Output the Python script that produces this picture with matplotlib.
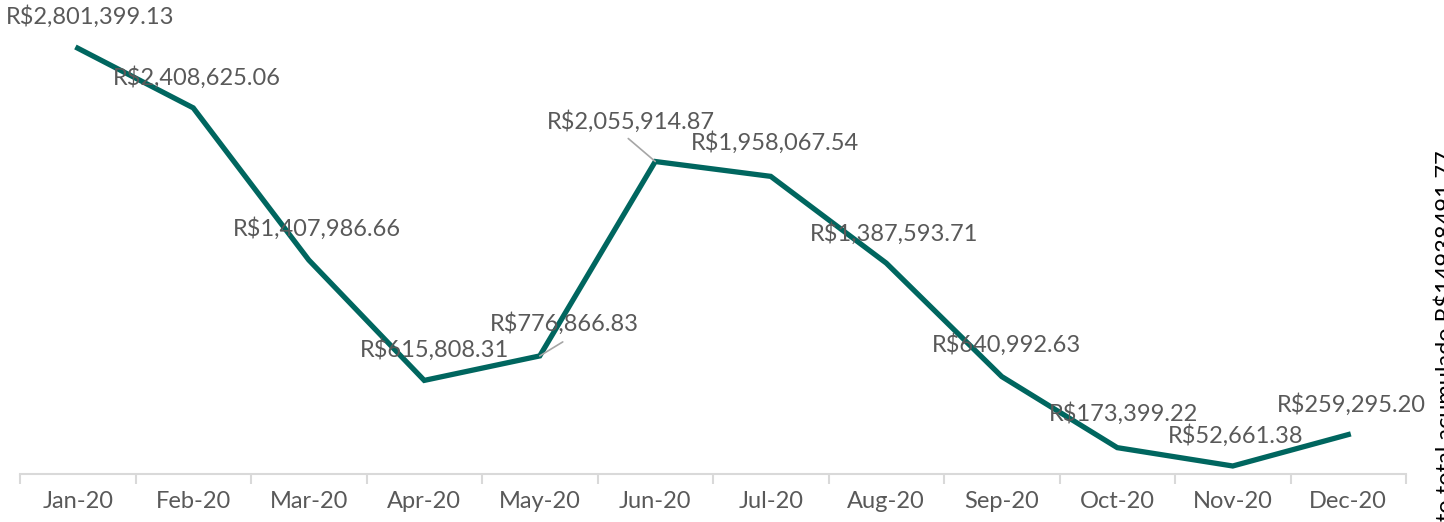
import matplotlib
matplotlib.use("Agg")
import matplotlib.pyplot as plt

months = ["Jan-20", "Feb-20", "Mar-20", "Apr-20", "May-20", "Jun-20",
          "Jul-20", "Aug-20", "Sep-20", "Oct-20", "Nov-20", "Dec-20"]
values = [2801399.13, 2408625.06, 1407986.66, 615808.31, 776866.83, 2055914.87,
          1958067.54, 1387593.71, 640992.63, 173399.22, 52661.38, 259295.20]
# label offsets in pixels (dx, dy) from each point, as placed in the original
label_offsets = [(12, 32), (4, 30), (8, 31), (10, 31), (25, 32), (-24, 40),
                 (4, 34), (8, 30), (5, 32), (6, 34), (3, 30), (3, 30)]
# leader line end points (pixels from the point) for the moved labels
leaders = {"May-20": (23, 14), "Jun-20": (-27, 23)}
side_note = "Faturamento total acumulado R$14938491.77"

LINE = "#00665F"
TEXT = "#595959"
plt.rcParams["font.family"] = ["Lato", "DejaVu Sans"]

fig = plt.figure(figsize=(14.44, 5.22), dpi=100)
ax = fig.add_axes([20 / 1444, 1 - 474 / 522, 1386 / 1444, 456 / 522])

x = list(range(len(months)))
ax.plot(x, values, color=LINE, linewidth=3.8, solid_joinstyle="miter", zorder=3)

for i, (m, v) in enumerate(zip(months, values)):
    dx, dy = label_offsets[i]
    ax.annotate(f"R${v:,.2f}", (i, v), xytext=(dx, dy), textcoords="offset pixels",
                ha="center", va="center", fontsize=17, color=TEXT, zorder=4,
                annotation_clip=False)
    if m in leaders:
        ax.annotate("", (i, v), xytext=leaders[m], textcoords="offset pixels",
                    arrowprops=dict(arrowstyle="-", color="#A6A6A6", lw=1.2,
                                    shrinkA=0, shrinkB=0))

ax.set_xlim(-0.5, len(months) - 0.5)
ax.set_ylim(0, 3000000)
ax.set_yticks([])
ax.set_xticks(x)
ax.set_xticklabels(months, fontsize=17, color=TEXT)
ax.set_xticks([i - 0.5 for i in range(len(months) + 1)], minor=True)
ax.tick_params(axis="x", which="major", length=0, pad=12)
ax.tick_params(axis="x", which="minor", length=7, width=1.5, color="#D9D9D9")
for side in ["top", "right", "left"]:
    ax.spines[side].set_visible(False)
ax.spines["bottom"].set_color("#D9D9D9")
ax.spines["bottom"].set_linewidth(1.5)

# side note, clipped at the right edge as in the source
fig.text(1446 / 1444, 1 - 150 / 522, side_note, rotation=90, ha="center", va="top",
         fontsize=17, color="#000000")

fig.savefig("out.png", dpi=100)
